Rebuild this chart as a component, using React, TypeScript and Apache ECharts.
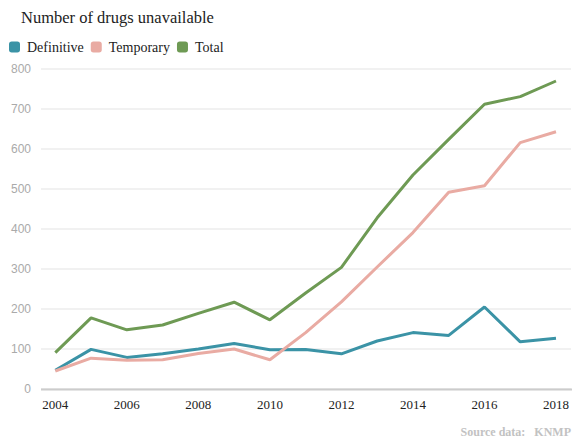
import React, { useEffect, useRef } from "react";
import * as echarts from "echarts";

const years = [2004, 2005, 2006, 2007, 2008, 2009, 2010, 2011, 2012, 2013, 2014, 2015, 2016, 2017, 2018];
const definitive = [47, 99, 79, 88, 100, 114, 98, 99, 88, 120, 141, 134, 205, 118, 127];
const temporary = [45, 77, 72, 73, 89, 100, 73, 141, 218, 305, 391, 492, 508, 616, 643];
const total = [91, 178, 148, 160, 189, 217, 173, 240, 304, 428, 535, 624, 712, 731, 770];
const yearTicks = [2004, 2006, 2008, 2010, 2012, 2014, 2016, 2018];

const seriesNames = ["Definitive", "Temporary", "Total"];
const seriesColors = ["#3b93a6", "#e9aba3", "#6e9a54"];

const SERIF = "'Liberation Serif', 'Times New Roman', serif";
const SANS = "'Liberation Sans', Arial, sans-serif";

export default function App() {
  const ref = useRef<HTMLDivElement>(null);

  useEffect(() => {
    document.body.style.margin = "0";
    const chart = echarts.init(ref.current!, null, { renderer: "svg" });
    const values = [definitive, temporary, total];
    chart.setOption({
      animation: false,
      backgroundColor: "#ffffff",
      title: {
        text: "Number of drugs unavailable",
        left: 21,
        top: 9,
        padding: 0,
        textStyle: { fontFamily: SERIF, fontSize: 16.5, fontWeight: "normal", color: "#222" },
      },
      legend: {
        left: 9,
        top: 40,
        padding: 0,
        itemWidth: 11,
        itemHeight: 11,
        itemGap: 7,
        icon: "roundRect",
        textStyle: { fontFamily: SERIF, fontSize: 14, color: "#222", padding: [0, 0, 0, 2] },
        data: seriesNames,
      },
      grid: { left: 41, right: 0, top: 69, bottom: 50, containLabel: false },
      xAxis: {
        type: "value",
        min: 2003.6,
        max: 2018.42,
        axisLine: { show: false },
        axisTick: { show: false },
        splitLine: { show: false },
        axisLabel: {
          customValues: yearTicks,
          formatter: (v: number) => String(v),
          fontFamily: SERIF,
          fontSize: 13,
          color: "#222",
          margin: 9,
        },
      },
      yAxis: {
        type: "value",
        min: 0,
        max: 800,
        interval: 100,
        axisLine: { show: false },
        axisTick: { show: false },
        axisLabel: { fontFamily: SANS, fontSize: 12, color: "#aaaaaa", margin: 10 },
        splitLine: {
          lineStyle: { color: "#ececec", width: 1.5 },
        },
      },
      graphic: [
        {
          type: "line",
          shape: { x1: 41, y1: 389.5, x2: 572, y2: 389.5 },
          style: { stroke: "#cccccc", lineWidth: 2 },
          z: 1,
        },
        {
          type: "text",
          right: 1,
          top: 426,
          style: {
            text: "Source data:   KNMP",
            font: `bold 12px ${SERIF}`,
            fill: "#c2c2c2",
          },
        },
      ],
      series: seriesNames.map((name, i) => ({
        name,
        type: "line",
        data: years.map((y, j) => [y, values[i][j]]),
        showSymbol: false,
        symbol: "none",
        lineStyle: { width: 3, color: seriesColors[i] },
        itemStyle: { color: seriesColors[i] },
        z: 3,
      })),
    });
    return () => chart.dispose();
  }, []);

  return <div ref={ref} style={{ width: 572, height: 439 }} />;
}
